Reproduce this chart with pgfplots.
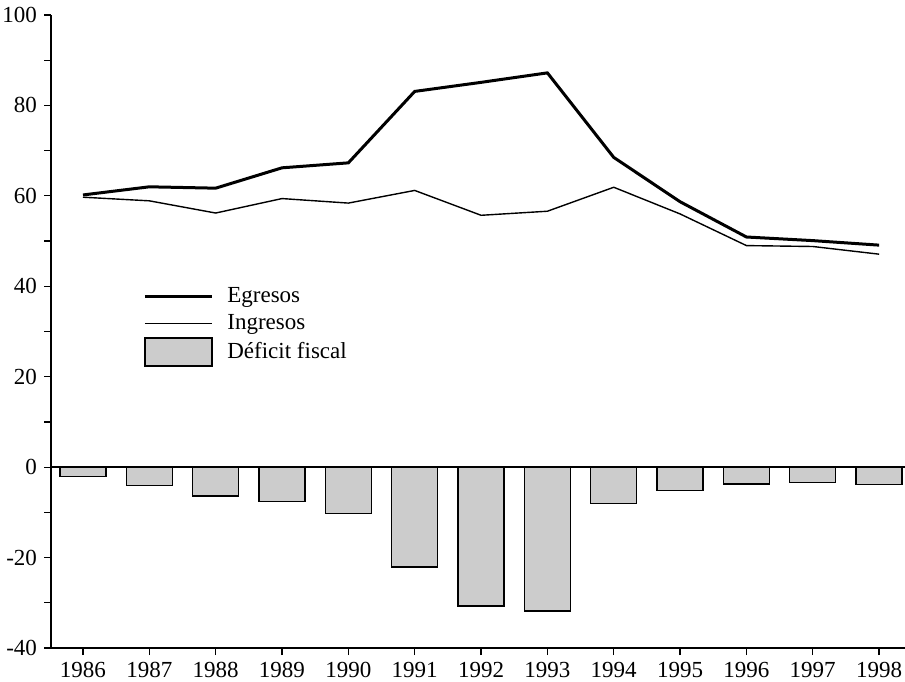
\documentclass[border=0pt]{standalone}
\usepackage{fontspec}
\setmainfont{Liberation Serif}
\usepackage{pgfplots}
\pgfplotsset{compat=1.18}
\usetikzlibrary{calc}

% valores (porcentaje)
\pgfplotstableread{
anio egresos ingresos deficit
1986 60.2 59.7 -2.1
1987 62.0 58.9 -4.1
1988 61.7 56.2 -6.4
1989 66.2 59.4 -7.6
1990 67.3 58.4 -10.2
1991 83.1 61.2 -22.1
1992 85.1 55.7 -30.7
1993 87.2 56.6 -31.8
1994 68.5 61.9 -8.0
1995 58.7 56.0 -5.1
1996 50.9 49.0 -3.7
1997 50.1 48.8 -3.4
1998 49.1 47.1 -3.8
}\datos

\begin{document}
\begin{tikzpicture}
\begin{axis}[
  scale only axis,
  width=427pt, height=316.5pt,
  xmin=1985.518, xmax=1998.39,
  ymin=-40, ymax=100,
  axis x line*=bottom,
  axis y line*=left,
  axis line style={line width=0.8pt},
  xtick={1986,...,1998},
  ytick={-40,-20,...,100},
  minor ytick={-30,-10,10,30,50,70,90},
  tick align=outside,
  major tick length=3.5pt,
  minor tick length=3.5pt,
  tick style={black, line width=0.6pt},
  xticklabel style={/pgf/number format/1000 sep={}},
  /pgf/number format/assume math mode=true,
  ticklabel style={font=\fontsize{11.5}{13}\selectfont},
  legend style={at={(rel axis cs:0.1077,0.577)}, anchor=north west,
    draw=none, fill=none, inner sep=0pt, column sep=5pt,
    font=\fontsize{11.5}{13}\selectfont,
    row sep=0.5pt},
  legend cell align=left,
  legend image code/.code={\draw[#1] (0pt,0pt) -- (33.5pt,0pt);},
  clip=false,
]
\addplot[black, line width=1.5pt] table[x=anio, y=egresos] {\datos};
\addlegendentry{Egresos}
\addplot[black, line width=0.7pt] table[x=anio, y=ingresos] {\datos};
\addlegendentry{Ingresos}
\addplot[ybar, bar width=23pt, fill=black!20, draw=black, line width=0.7pt,
  legend image code/.code={\draw[black, fill=black!20, line width=0.7pt] (0pt,-7pt) rectangle (33.5pt,7pt);}]
  table[x=anio, y=deficit] {\datos};
\addlegendentry{Déficit fiscal}
\draw[black, line width=0.7pt] (axis cs:1985.518,0) -- (axis cs:1998.39,0);
\coordinate (bbsw) at (rel axis cs:0,0);
\coordinate (bbne) at (rel axis cs:1,1);
\end{axis}
\pgfresetboundingbox
\path[use as bounding box] ($(bbsw)+(-25.5pt,-16.5pt)$) rectangle ($(bbne)+(0pt,7.5pt)$);
\end{tikzpicture}
\end{document}
